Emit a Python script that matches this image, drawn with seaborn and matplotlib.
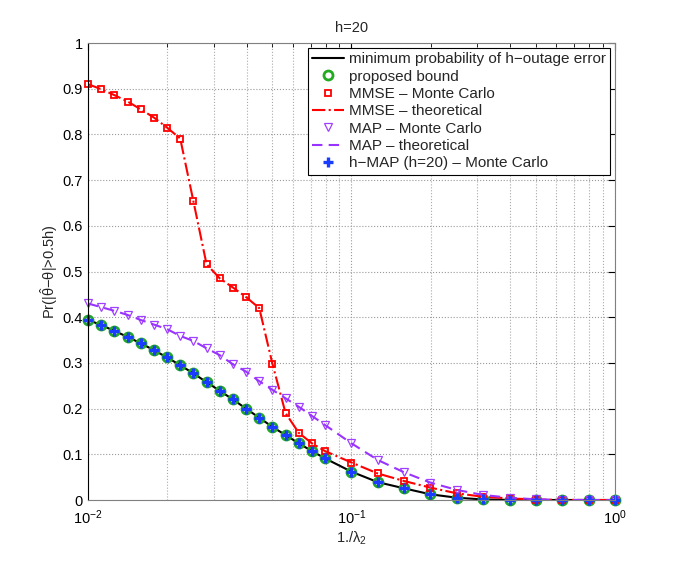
import numpy as np
import pandas as pd
import matplotlib
matplotlib.use("Agg")
import matplotlib.pyplot as plt
import seaborn as sns
from matplotlib.ticker import FixedLocator, FuncFormatter, LogLocator

# x axis: 1./lambda_2
inv_lambda2 = [0.01, 0.01122, 0.01259, 0.01413, 0.01585, 0.01778, 0.01995, 0.02239,
               0.02512, 0.02818, 0.03162, 0.03548, 0.03981, 0.04467, 0.05012, 0.05623,
               0.0631, 0.07079, 0.07943, 0.1, 0.1259, 0.1585, 0.1995, 0.2512, 0.3162,
               0.3981, 0.5012, 0.631, 0.7943, 1.0]

# minimum probability of h-outage error (also proposed bound / h-MAP MC)
min_prob = [0.394, 0.383, 0.370, 0.357, 0.343, 0.328, 0.312, 0.295, 0.277, 0.258,
            0.239, 0.220, 0.200, 0.180, 0.160, 0.142, 0.124, 0.107, 0.091, 0.062,
            0.039, 0.0255, 0.0124, 0.005, 0.0012, 0.0003, 0.0, 0.0, 0.0, 0.0]

# MMSE
mmse_mc = [0.910, 0.899, 0.886, 0.872, 0.855, 0.837, 0.815, 0.791, 0.654, 0.516,
           0.485, 0.465, 0.444, 0.420, 0.298, 0.190, 0.147, 0.124, 0.107, 0.082,
           0.058, 0.0415, 0.027, 0.0146, 0.007, 0.0036, 0.001, 0.0003, 0.0, 0.0]
mmse_theory = list(mmse_mc)

# MAP
map_mc = [0.430, 0.422, 0.414, 0.405, 0.394, 0.384, 0.374, 0.359, 0.348, 0.332,
          0.317, 0.297, 0.281, 0.260, 0.241, 0.2225, 0.204, 0.184, 0.164, 0.124,
          0.0875, 0.0605, 0.038, 0.022, 0.011, 0.005, 0.0015, 0.0003, 0.0, 0.0]
map_theory = list(map_mc)

bound = list(min_prob)
hmap_mc = list(min_prob)

y_ticks = [0, 0.1, 0.2, 0.3, 0.4, 0.5, 0.6, 0.7, 0.8, 0.9, 1.0]

sns.set_style("white")
plt.rcParams['font.family'] = ['Liberation Sans', 'DejaVu Sans']
plt.rcParams['mathtext.fontset'] = 'custom'
plt.rcParams['mathtext.rm'] = 'Liberation Sans'
plt.rcParams['mathtext.it'] = 'Liberation Sans'
plt.rcParams['mathtext.bf'] = 'Liberation Sans:bold'
plt.rcParams['font.size'] = 10.5

df = pd.DataFrame({'x': inv_lambda2, 'minp': min_prob, 'bound': bound,
                   'mmse_mc': mmse_mc, 'mmse_th': mmse_theory,
                   'map_mc': map_mc, 'map_th': map_theory, 'hmap': hmap_mc})

fig = plt.figure(figsize=(6.81, 5.63), dpi=100)
ax = fig.add_axes([0.1292, 0.1119, 0.7738, 0.8117])

red = '#ff0000'
purple = '#a040ff'
green = '#22aa22'
blue = '#1a3cff'

sns.lineplot(data=df, x='x', y='minp', color='black', linewidth=1.5, sort=False,
             ax=ax, label='minimum probability of h\u2212outage error')
sns.lineplot(data=df, x='x', y='bound', color=green, linestyle='none', marker='o',
             markersize=6.5, markerfacecolor='none', markeredgecolor=green,
             markeredgewidth=2, sort=False, ax=ax, label='proposed bound', clip_on=False)
sns.lineplot(data=df, x='x', y='mmse_mc', color=red, linestyle='none', marker='s',
             markersize=5, markerfacecolor='none', markeredgecolor=red,
             markeredgewidth=1.3, sort=False, ax=ax, label='MMSE \u2013 Monte Carlo',
             clip_on=False)
sns.lineplot(data=df, x='x', y='mmse_th', color=red, linestyle='-.', linewidth=1.5,
             sort=False, ax=ax, label='MMSE \u2013 theoretical')
sns.lineplot(data=df, x='x', y='map_mc', color=purple, linestyle='none', marker='v',
             markersize=6, markerfacecolor='none', markeredgecolor=purple,
             markeredgewidth=0.9, sort=False, ax=ax, label='MAP \u2013 Monte Carlo',
             clip_on=False)
sns.lineplot(data=df, x='x', y='map_th', color='#9933ff', linestyle=(0, (5, 3)),
             linewidth=1.5, sort=False, ax=ax, label='MAP \u2013 theoretical')
sns.lineplot(data=df, x='x', y='hmap', color=blue, linestyle='none', marker='+',
             markersize=6.5, markeredgewidth=2.4, markeredgecolor=blue,
             sort=False, ax=ax, label='h\u2212MAP (h=20) \u2013 Monte Carlo', clip_on=False)

ax.set_xscale('log')
ax.set_xlim(0.01, 1)
ax.set_ylim(0, 1)
ax.yaxis.set_major_locator(FixedLocator(y_ticks))
ax.yaxis.set_major_formatter(FuncFormatter(lambda v, p: '%g' % v))
ax.xaxis.set_major_locator(LogLocator(base=10, numticks=5))
ax.xaxis.set_minor_locator(LogLocator(base=10, subs=np.arange(2, 10), numticks=20))

ax.grid(True, which='major', axis='both', linestyle=':', color='#999999', linewidth=0.8)
ax.grid(True, which='minor', axis='x', linestyle=':', color='#aaaaaa', linewidth=0.8)
ax.tick_params(which='both', direction='in', top=True, right=True, labelsize=10.5,
               colors='black')
ax.tick_params(which='major', length=5)
ax.tick_params(which='minor', length=3)
ax.tick_params(axis='x', which='major', pad=6)
for side in ['top', 'right', 'bottom']:
    ax.spines[side].set_color('#808080')
ax.spines['left'].set_color('black')

ax.set_title('h=20', fontsize=10.5, pad=8)
ax.set_xlabel(r'1./$\lambda_2$', fontsize=10.5, labelpad=2)
ax.set_ylabel(r'Pr($|\hat{\theta}\mathregular{-}\theta|$>0.5h)', fontsize=10.5, labelpad=2)

leg = ax.legend(loc='upper right', fontsize=11, frameon=True, fancybox=False,
                edgecolor='black', framealpha=1, borderaxespad=0.3,
                handlelength=2.1, handletextpad=0.3, labelspacing=0.22,
                borderpad=0.3)
leg.get_frame().set_linewidth(0.8)

fig.savefig('out.png', dpi=100)
